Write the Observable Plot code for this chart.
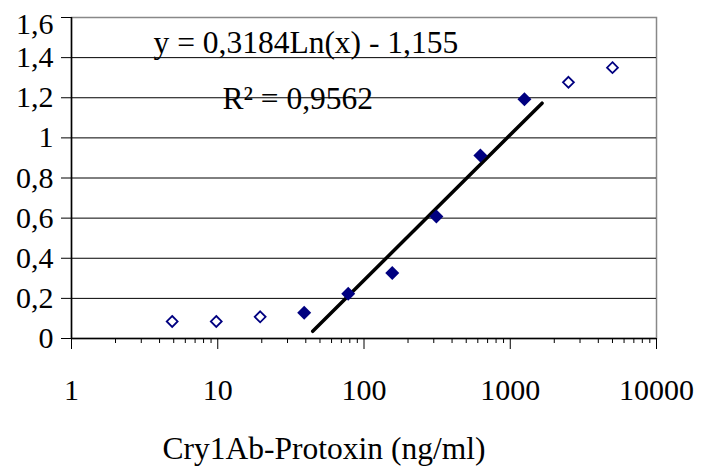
<!DOCTYPE html>
<html>
<head>
<meta charset="utf-8">
<script src="https://cdn.jsdelivr.net/npm/d3@7"></script>
<script src="https://cdn.jsdelivr.net/npm/@observablehq/plot@0.6"></script>
<style>
  html, body { margin: 0; padding: 0; background: #fff; }
  svg { display: block; }
</style>
</head>
<body>
<div id="chart"></div>
<script>
// Concentrations (ng/ml) – two-fold dilution series
const concFilled = [39, 78, 156, 312.5, 625, 1250];
const odFilled   = [0.128, 0.223, 0.326, 0.608, 0.912, 1.193];
const concOpen   = [4.88, 9.77, 19.5, 2500, 5000];
const odOpen     = [0.085, 0.085, 0.108, 1.277, 1.350];
// Trendline end points
const trendX = [44.6, 1650];
const trendY = [0.036, 1.173];
const yTicks = [0, 0.2, 0.4, 0.6, 0.8, 1, 1.2, 1.4, 1.6];
const xTicks = [1, 10, 100, 1000, 10000];
const equationText = "y = 0,3184Ln(x) - 1,155";
const r2Text = "R² = 0,9562";
const xLabel = "Cry1Ab-Protoxin (ng/ml)";

const filled = concFilled.map((x, i) => ({x, y: odFilled[i]}));
const open = concOpen.map((x, i) => ({x, y: odOpen[i]}));
const trend = trendX.map((x, i) => ({x, y: trendY[i]}));
const minorTicks = [];
for (const d of [1, 10, 100, 1000]) for (let k = 2; k <= 9; k++) minorTicks.push(d * k);
const fmt = d => String(d).replace(".", ",");
const FF = "Liberation Serif";

const chart = Plot.plot({
  width: 704,
  height: 469,
  marginLeft: 71,
  marginRight: 48,
  marginTop: 17,
  marginBottom: 131,
  style: {fontFamily: FF, fontSize: "30px", color: "#000", background: "#fff"},
  x: {type: "log", domain: [1, 10000]},
  y: {domain: [0, 1.6]},
  marks: [
    Plot.frame({stroke: "#888", strokeWidth: 1.5}),
    Plot.ruleY(yTicks.filter(d => d > 0 && d < 1.6), {stroke: "#000", strokeWidth: 1}),
    Plot.ruleY([0], {stroke: "#000", strokeWidth: 1.5}),
    Plot.ruleX([1], {stroke: "#000", strokeWidth: 1.5}),
    Plot.axisY({ticks: yTicks, tickSize: 10, tickPadding: 8, tickFormat: d => d === 1.6 ? "" : fmt(d), label: null, fontFamily: FF, fontSize: 30}),
    Plot.text([1.6], {y: d => d, frameAnchor: "left", dx: -18, dy: 7, textAnchor: "end", text: fmt, fontFamily: FF, fontSize: 30}),
    Plot.axisX({ticks: xTicks, tickSize: 11, tickPadding: 29, tickFormat: d => String(d), label: null, fontFamily: FF, fontSize: 30}),
    Plot.axisX({ticks: minorTicks, tickSize: 5, tickFormat: () => "", label: null}),
    Plot.line(trend, {x: "x", y: "y", stroke: "#000", strokeWidth: 3.5}),
    Plot.dot(filled, {x: "x", y: "y", symbol: "diamond2", r: 6.3, fill: "#000080", stroke: "none"}),
    Plot.dot(open, {x: "x", y: "y", symbol: "diamond2", r: 4.9, fill: "#fff", stroke: "#000080", strokeWidth: 1.8}),
    Plot.text([equationText], {frameAnchor: "top-left", dx: 82, dy: 25, textAnchor: "start", lineAnchor: "middle", fontFamily: FF, fontSize: 31.5}),
    Plot.text([r2Text], {frameAnchor: "top-left", dx: 151, dy: 81, textAnchor: "start", lineAnchor: "middle", fontFamily: FF, fontSize: 31.5}),
    Plot.text([xLabel], {frameAnchor: "bottom", dx: -40, dy: 110, lineAnchor: "middle", fontFamily: FF, fontSize: 31.5})
  ]
});
document.getElementById("chart").appendChild(chart);
</script>
</body>
</html>
